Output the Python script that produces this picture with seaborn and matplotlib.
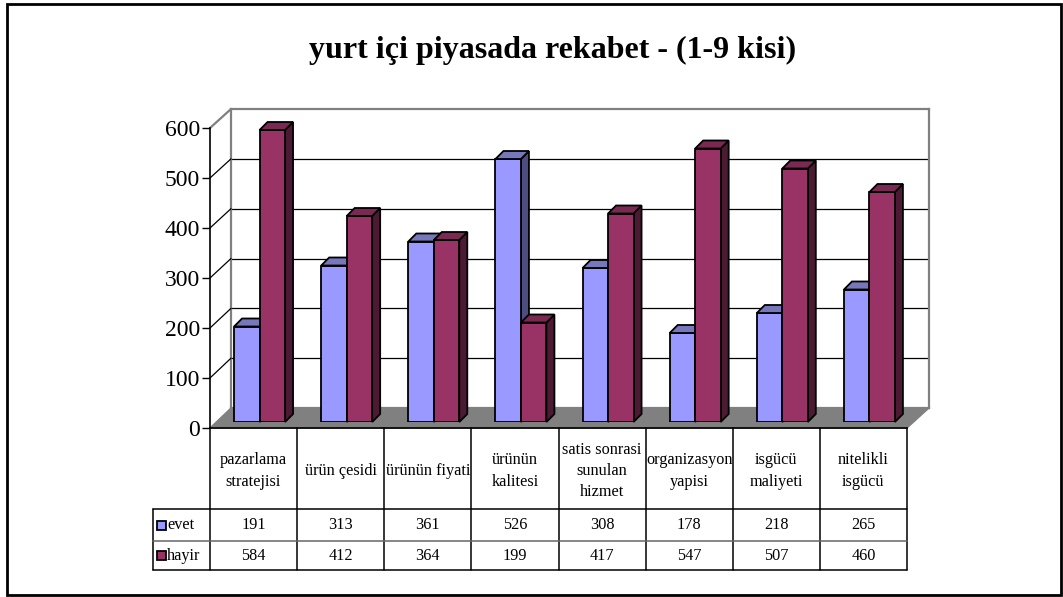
import numpy as np
import pandas as pd
import matplotlib
matplotlib.use("Agg")
import matplotlib.pyplot as plt
import seaborn as sns
from matplotlib.patches import Polygon, Rectangle
from matplotlib.lines import Line2D
from matplotlib.transforms import IdentityTransform

# ---------------- data ----------------
categories = ["pazarlama\nstratejisi", "ürün çesidi", "ürünün fiyati", "ürünün\nkalitesi",
              "satis sonrasi\nsunulan\nhizmet", "organizasyon\nyapisi", "isgücü\nmaliyeti",
              "nitelikli\nisgücü"]
series_names = ["evet", "hayir"]
evet = [191, 313, 361, 526, 308, 178, 218, 265]
hayir = [584, 412, 364, 199, 417, 547, 507, 460]
y_ticks = [0, 100, 200, 300, 400, 500, 600]
title = "yurt içi piyasada rekabet - (1-9 kisi)"

face_colors = {"evet": "#9999FF", "hayir": "#993366"}
top_colors = {"evet": "#7777BB", "hayir": "#7A2952"}
side_colors = {"evet": "#4D4D80", "hayir": "#4D1A33"}

df = pd.DataFrame({
    "kategori": categories * 2,
    "seri": ["evet"] * len(categories) + ["hayir"] * len(categories),
    "deger": evet + hayir,
})

sns.set_theme(style="white")
plt.rcParams["font.family"] = ["Liberation Serif", "DejaVu Serif"]
plt.rcParams["text.color"] = "black"
plt.rcParams["ytick.color"] = "black"
plt.rcParams["ytick.labelcolor"] = "black"

W, H = 1063, 597
fig = plt.figure(figsize=(W / 100, H / 100), dpi=100)


def rect(x0, y0, x1, y1):
    """pixel box (top-left origin) -> figure fraction [l, b, w, h]"""
    return [x0 / W, 1 - y1 / H, (x1 - x0) / W, (y1 - y0) / H]


# outer border
fig.add_artist(Rectangle((7 / W, 1 - 595 / H), (1061 - 7) / W, (595 - 4) / H,
                         transform=fig.transFigure, fill=False, edgecolor="black",
                         linewidth=2.0, zorder=10))

fig.text(553 / W, 1 - 50 / H, title, ha="center", va="center", fontsize=23,
         fontweight="bold", color="black")

ymax = 600
# back wall
ax_back = fig.add_axes(rect(231, 109, 929, 408))
ax_back.set_xlim(-0.5, 7.5)
ax_back.set_ylim(0, ymax)
ax_back.set_xticks([])
ax_back.set_yticks([])
for v in y_ticks[1:-1]:
    ax_back.axhline(v, color="black", linewidth=0.9)
for s in ax_back.spines.values():
    s.set_color("#808080")
    s.set_linewidth(1.6)
ax_back.set_zorder(0)

# front axes (ticks)
ax_front = fig.add_axes(rect(210, 128, 907, 428))
ax_front.set_xlim(-0.5, 7.5)
ax_front.set_ylim(0, ymax)
ax_front.patch.set_alpha(0)
ax_front.set_xticks([])
ax_front.set_yticks(y_ticks)
ax_front.set_yticklabels([str(v) for v in y_ticks], fontsize=17, color="black")
ax_front.tick_params(axis="y", direction="out", length=6, width=1, color="black",
                     left=True, pad=1)
for k in ["top", "right"]:
    ax_front.spines[k].set_visible(False)
ax_front.spines["left"].set_color("black")
ax_front.spines["left"].set_linewidth(1.2)
ax_front.spines["bottom"].set_color("black")
ax_front.spines["bottom"].set_linewidth(1.2)
ax_front.set_zorder(3)

fig.canvas.draw()

# floor
tf = ax_front.transData
tb = ax_back.transData
fl0 = tf.transform((-0.5, 0))
fr0 = tf.transform((7.5, 0))
bl0 = tb.transform((-0.5, 0))
br0 = tb.transform((7.5, 0))
floor = Polygon([fl0, fr0, br0, bl0], closed=True, transform=IdentityTransform(),
                facecolor="#808080", edgecolor="#808080", linewidth=1, zorder=0.5)
fig.add_artist(floor)
# side wall
for v in y_ticks[1:]:
    a = tf.transform((-0.5, v))
    b = tb.transform((-0.5, v))
    fig.add_artist(Line2D([a[0], b[0]], [a[1], b[1]], transform=IdentityTransform(),
                          color="black" if v < ymax else "#808080",
                          linewidth=0.9 if v < ymax else 1.6, zorder=0.6))

# bars
ax_bars = fig.add_axes(rect(216, 122, 913, 422))
ax_bars.set_zorder(1)
sns.barplot(data=df, x="kategori", y="deger", hue="seri", hue_order=series_names,
            order=categories, palette=face_colors, saturation=1, width=0.585, gap=0,
            edgecolor="black", linewidth=1.3, legend=False, ax=ax_bars, errorbar=None)
ax_bars.set_xlim(-0.5, 7.5)
ax_bars.set_ylim(0, ymax)
ax_bars.axis("off")
ax_bars.patch.set_alpha(0)
fig.canvas.draw()

d = 8
for si, cont in enumerate(ax_bars.containers):
    name = series_names[si]
    for patch in cont.patches:
        patch.set_zorder(2 + si)
        bb = patch.get_window_extent()
        x0, x1, y0, y1 = bb.x0, bb.x1, bb.y0, bb.y1
        top = Polygon([(x0, y1), (x1, y1), (x1 + d, y1 + d), (x0 + d, y1 + d)],
                      closed=True, transform=IdentityTransform(),
                      facecolor=top_colors[name], edgecolor="black", linewidth=1.3,
                      zorder=2 + si, clip_on=False)
        side = Polygon([(x1, y0), (x1 + d, y0 + d), (x1 + d, y1 + d), (x1, y1)],
                       closed=True, transform=IdentityTransform(),
                       facecolor=side_colors[name], edgecolor="black", linewidth=1.3,
                       zorder=2 + si - 0.01, clip_on=False)
        ax_bars.add_artist(side)
        ax_bars.add_artist(top)

# data table
ax_tab = fig.add_axes(rect(210, 428, 907, 570))
ax_tab.set_xlim(-0.5, 7.5)
ax_tab.set_ylim(142, 0)
ax_tab.axis("off")
ax_tab.set_zorder(4)
slot_px = (907 - 210) / 8
leg_left = -0.5 - (210 - 153) / slot_px
row_evet, row_hayir, row_end = 81, 113, 142
for i in range(9):
    ax_tab.plot([i - 0.5, i - 0.5], [0, row_end], color="black", linewidth=1.1,
                clip_on=False)
ax_tab.plot([leg_left, leg_left], [row_evet, row_end], color="black", linewidth=1.1,
            clip_on=False)
ax_tab.plot([leg_left, 7.5], [row_evet, row_evet], color="black", linewidth=1.1,
            clip_on=False)
ax_tab.plot([leg_left, 7.5], [row_hayir, row_hayir], color="#666666", linewidth=1.1,
            clip_on=False)
ax_tab.plot([leg_left, 7.5], [row_end, row_end], color="black", linewidth=1.1,
            clip_on=False)

fs = 11.7
for i, c in enumerate(categories):
    ax_tab.text(i, 43, c, ha="center", va="center", fontsize=fs, linespacing=1.42,
                clip_on=False, color="black")
    ax_tab.text(i, (row_evet + row_hayir) / 2, str(evet[i]), ha="center", va="center",
                fontsize=fs, color="black")
    ax_tab.text(i, (row_hayir + row_end) / 2, str(hayir[i]), ha="center", va="center",
                fontsize=fs, color="black")

sq = 8.5 / slot_px
for name, (ra, rb) in zip(series_names, [(row_evet, row_hayir), (row_hayir, row_end)]):
    yc = (ra + rb) / 2
    ax_tab.add_patch(Rectangle((leg_left + 4 / slot_px, yc - 4.5), sq, 9,
                               facecolor=face_colors[name], edgecolor="black",
                               linewidth=1.3, clip_on=False))
    ax_tab.text(leg_left + 14 / slot_px, yc, name, ha="left", va="center",
                fontsize=fs, clip_on=False, color="black")

fig.savefig("out.png", dpi=100)
